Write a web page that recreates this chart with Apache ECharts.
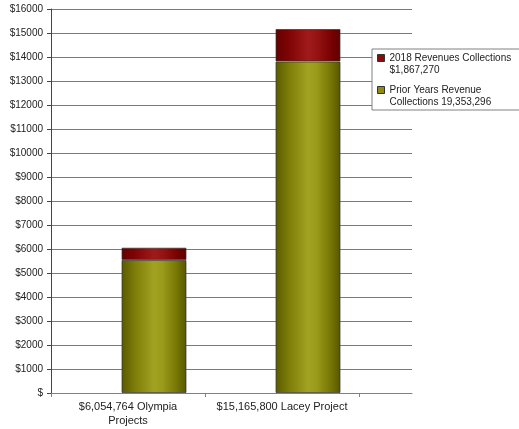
<!DOCTYPE html>
<html>
<head>
<meta charset="utf-8">
<script src="https://cdn.jsdelivr.net/npm/echarts@6/dist/echarts.min.js"></script>
<style>
  html, body { margin: 0; padding: 0; background: #fff; }
  #chart { width: 519px; height: 429px; }
</style>
</head>
<body>
<div id="chart"></div>
<script>
// values in thousands of dollars
const categories = ["$6,054,764 Olympia\nProjects", "$15,165,800 Lacey Project"];
const priorYears = [5540, 13813.3];
const revenues2018 = [514.8, 1352.5];
const priorName = "Prior Years Revenue\nCollections 19,353,296";
const newName = "2018 Revenues Collections\n$1,867,270";
const yMax = 16000;
const yStep = 1000;

const font = "'Liberation Sans', Arial, sans-serif";

function hGrad(stops) {
  return {
    type: "linear", x: 0, y: 0, x2: 1, y2: 0,
    colorStops: stops.map((s) => ({ offset: s[0], color: s[1] })),
  };
}

const olive = hGrad([
  [0, "#5a5a00"], [0.2, "#7c7c08"], [0.5, "#a2a222"],
  [0.62, "#9c9c1c"], [0.85, "#767604"], [1, "#565600"],
]);
const red = hGrad([
  [0, "#640000"], [0.2, "#7e0404"], [0.5, "#a01a1a"],
  [0.62, "#981414"], [0.85, "#780202"], [1, "#600000"],
]);

// small square at the top of a taller box, so it lines up with the first text line
const legendIcon = "path://M0,0L7,0L7,7L0,7ZM0,19";

const chart = echarts.init(document.getElementById("chart"));
chart.setOption({
  animation: false,
  textStyle: { fontFamily: font },
  grid: [
    { left: 51, top: 9, width: 361, height: 384 },
    { left: 51, top: 9, width: 308, height: 384 },
    { left: 77, top: 9, width: 308, height: 384 },
  ],
  xAxis: [
    {
      gridIndex: 0, type: "value", min: 0, max: 1,
      axisLine: { show: true, lineStyle: { color: "#808080", width: 1 } },
      axisTick: { show: false }, axisLabel: { show: false }, splitLine: { show: false },
    },
    {
      gridIndex: 1, type: "category", data: categories,
      axisLine: { show: false },
      axisTick: { show: true, length: 4, lineStyle: { color: "#808080" } },
      axisLabel: { interval: 0, fontSize: 11, lineHeight: 14, color: "#222", margin: 7 },
    },
    { gridIndex: 2, type: "category", data: categories, show: false },
  ],
  yAxis: [
    {
      gridIndex: 0, type: "value", min: 0, max: yMax, interval: yStep,
      axisLine: { show: true, lineStyle: { color: "#444" } },
      axisTick: { show: true, length: 4, lineStyle: { color: "#444" } },
      axisLabel: {
        fontSize: 10, color: "#222", margin: 8,
        formatter: (v) => (v === 0 ? "$" : "$" + v),
      },
      splitLine: { show: true, lineStyle: { color: "#7a7a7a", width: 1 } },
    },
    { gridIndex: 1, type: "value", min: 0, max: yMax, show: false },
    { gridIndex: 2, type: "value", min: 0, max: yMax, show: false },
  ],
  legend: {
    left: 372, top: 49,
    orient: "vertical",
    padding: [3, 9, 2, 5],
    itemGap: 8,
    itemWidth: 7, itemHeight: 19,
    icon: legendIcon,
    backgroundColor: "#fff",
    borderColor: "#808080", borderWidth: 1,
    textStyle: { fontSize: 10, lineHeight: 12, color: "#222" },
    data: [
      { name: newName, itemStyle: { color: "#8b0a0a", borderColor: "#333", borderWidth: 1 } },
      { name: priorName, itemStyle: { color: "#8c8c10", borderColor: "#333", borderWidth: 1 } },
    ],
  },
  series: [
    {
      name: priorName, type: "bar", stack: "total",
      xAxisIndex: 2, yAxisIndex: 2, barWidth: 65,
      data: priorYears,
      itemStyle: { color: olive, borderColor: "rgba(50,50,50,0.7)", borderWidth: 1 },
    },
    {
      name: newName, type: "bar", stack: "total",
      xAxisIndex: 2, yAxisIndex: 2, barWidth: 65,
      data: revenues2018,
      itemStyle: { color: red, borderColor: "rgba(50,50,50,0.7)", borderWidth: 1 },
    },
  ],
});
</script>
</body>
</html>
